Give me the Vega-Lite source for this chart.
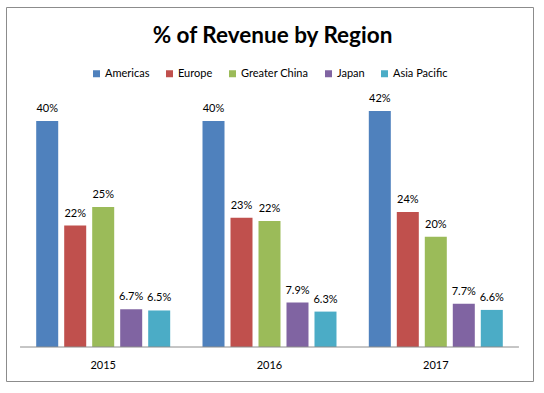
{
  "$schema": "https://vega.github.io/schema/vega-lite/v6.json",
  "autosize": {"type": "none"},
  "padding": {"left": 6, "top": 7, "right": 11, "bottom": 12},
  "width": 527,
  "height": 374,
  "background": "white",
  "config": {"view": {"stroke": "#8c8c8c", "strokeWidth": 1}, "font": "Lato"},
  "title": {"text": "% of Revenue by Region", "fontSize": 22.5, "fontWeight": "bold", "color": "black", "anchor": "middle", "offset": -58, "baseline": "alphabetic", "font": "Lato", "dx": 3},
  "data": {"values": [
    {"year": "2015", "region": "Americas", "value": 0.402},
    {"year": "2015", "region": "Europe", "value": 0.216},
    {"year": "2015", "region": "Greater China", "value": 0.249},
    {"year": "2015", "region": "Japan", "value": 0.067},
    {"year": "2015", "region": "Asia Pacific", "value": 0.065},
    {"year": "2016", "region": "Americas", "value": 0.402},
    {"year": "2016", "region": "Europe", "value": 0.23},
    {"year": "2016", "region": "Greater China", "value": 0.224},
    {"year": "2016", "region": "Japan", "value": 0.079},
    {"year": "2016", "region": "Asia Pacific", "value": 0.063},
    {"year": "2017", "region": "Americas", "value": 0.42},
    {"year": "2017", "region": "Europe", "value": 0.24},
    {"year": "2017", "region": "Greater China", "value": 0.196},
    {"year": "2017", "region": "Japan", "value": 0.077},
    {"year": "2017", "region": "Asia Pacific", "value": 0.066}
  ]},
  "layer": [
    {
      "mark": {"type": "bar"},
      "encoding": {
        "x": {"field": "year", "type": "nominal", "scale": {"paddingInner": 0, "paddingOuter": 0.0845},
          "axis": {"title": null, "labelAngle": 0, "ticks": false, "domain": false, "offset": -34, "labelPadding": 12, "labelFontSize": 11, "labelColor": "black", "labelFont": "Lato"}},
        "xOffset": {"field": "region", "type": "nominal", "scale": {"domain": ["Americas", "Europe", "Greater China", "Japan", "Asia Pacific"], "paddingInner": 0.214, "paddingOuter": 0.577}},
        "y": {"field": "value", "type": "quantitative", "scale": {"domain": [-0.0605, 0.605], "nice": false, "zero": false}, "axis": null},
        "y2": {"datum": 0},
        "color": {"field": "region", "type": "nominal",
          "scale": {"domain": ["Americas", "Europe", "Greater China", "Japan", "Asia Pacific"], "range": ["#4F81BD", "#C0504D", "#9BBB59", "#8064A2", "#4BACC6"]},
          "legend": {"orient": "none", "legendX": 85, "legendY": 61, "direction": "horizontal", "title": null, "symbolType": "square", "symbolSize": 49, "symbolStrokeWidth": 0, "labelFontSize": 11, "labelColor": "black", "labelFont": "Lato", "columnPadding": 14, "labelOffset": 3}}
      }
    },
    {
      "mark": {"type": "text", "dy": -9, "baseline": "alphabetic", "fontSize": 11, "font": "Lato", "color": "black"},
      "encoding": {
        "x": {"field": "year", "type": "nominal"},
        "xOffset": {"field": "region", "type": "nominal"},
        "y": {"field": "value", "type": "quantitative"},
        "text": {"field": "value", "type": "quantitative", "format": ".2p"}
      }
    },
    {
      "data": {"values": [{"a": 1}]},
      "mark": {"type": "rule", "color": "#8c8c8c", "strokeWidth": 1},
      "encoding": {
        "y": {"datum": 0},
        "x": {"datum": "2015", "bandPosition": 0},
        "x2": {"datum": "2017", "bandPosition": 1}
      }
    }
  ]
}
